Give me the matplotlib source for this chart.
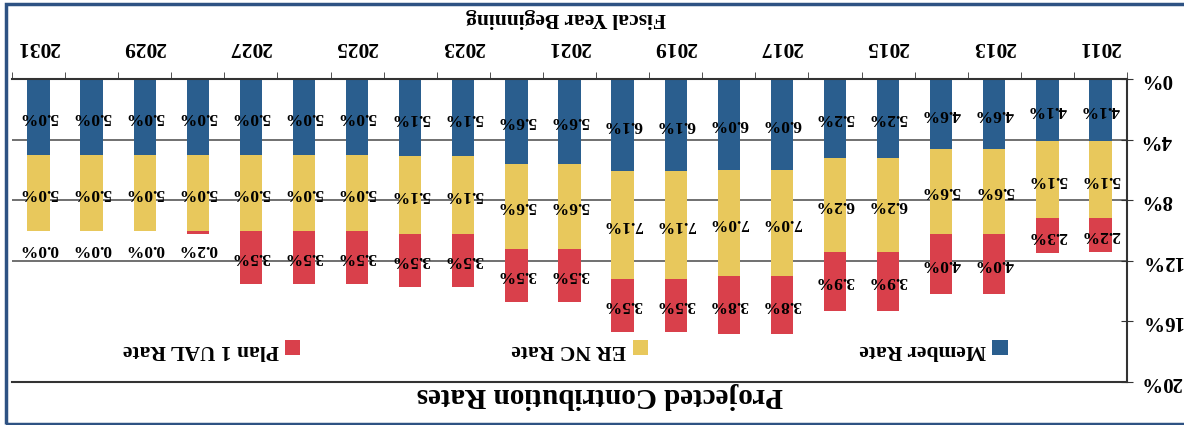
import numpy as np
import matplotlib
matplotlib.use('Agg')
import matplotlib.pyplot as plt
from matplotlib import ticker
from matplotlib.patches import Rectangle

years = list(range(2011, 2032))
member_rate = [4.1, 4.1, 4.6, 4.6, 5.2, 5.2, 6.0, 6.0, 6.1, 6.1, 5.6,
               5.6, 5.1, 5.1, 5.0, 5.0, 5.0, 5.0, 5.0, 5.0, 5.0]
er_nc_rate = [5.1, 5.1, 5.6, 5.6, 6.2, 6.2, 7.0, 7.0, 7.1, 7.1, 5.6,
              5.6, 5.1, 5.1, 5.0, 5.0, 5.0, 5.0, 5.0, 5.0, 5.0]
ual_rate = [2.2, 2.3, 4.0, 4.0, 3.9, 3.9, 3.8, 3.8, 3.5, 3.5, 3.5,
            3.5, 3.5, 3.5, 3.5, 3.5, 3.5, 0.2, 0.0, 0.0, 0.0]
series_names = ['Member Rate', 'ER NC Rate', 'Plan 1 UAL Rate']
y_ticks = [0, 4, 8, 12, 16, 20]
grid_levels = [4, 8, 12]


def plot_contribution_rates():
    # figure is laid out in pixels (dpi 100), then the whole thing is drawn upside down
    W, H = 1184.0, 425.0
    params = {'font.family': 'Liberation Serif',
              'font.weight': 'bold',
              'font.size': 12}
    plt.rcParams.update(params)

    fig = plt.figure(figsize=(W / 100, H / 100), dpi=100)
    ax = fig.add_axes([12 / W, 43 / H, 1115 / W, 303 / H])

    colors = ['#2a5e8e', '#e8c85c', '#d9404b']
    x = np.arange(len(years))
    bottom = np.zeros(len(years))
    for vals, color, name in zip([member_rate, er_nc_rate, ual_rate], colors, series_names):
        vals = np.asarray(vals)
        ax.bar(x, vals, 0.42, bottom=bottom, color=color, label=name, zorder=2)
        for xi, b, v in zip(x, bottom, vals):
            yc = b + v / 2.0 if v >= 1 else b + 1.2
            ax.text(xi, yc, '%.1f%%' % v, rotation=180, ha='center', va='center',
                    fontsize=12.5, fontweight='bold', zorder=3)
        bottom += vals

    for lvl in grid_levels:
        ax.axhline(lvl, color='#707070', lw=1.4, zorder=1)

    ax.set_xlim(len(years) - 0.5, -0.5)
    ax.set_ylim(20, 0)

    # category axis along the 0% line
    ax.xaxis.tick_top()
    ax.set_xticks(x[::2])
    ax.set_xticklabels([str(y) for y in years[::2]], rotation=180, fontsize=15.5)
    ax.set_xticks(np.arange(-0.5, len(years)), minor=True)
    ax.tick_params(axis='x', which='major', length=0, pad=16)
    ax.tick_params(axis='x', which='minor', length=5, direction='out', color='#333333')

    ax.yaxis.tick_right()
    ax.set_yticks(y_ticks)
    ax.yaxis.set_major_formatter(ticker.FormatStrFormatter('%d%%'))
    ax.tick_params(axis='y', length=8, direction='inout', pad=6, labelsize=15, color='#333333')
    for t in ax.get_yticklabels():
        t.set_rotation(180)
        t.set_va('center')

    for side in ['top', 'right', 'bottom']:
        ax.spines[side].set_color('#333333')
        ax.spines[side].set_linewidth(1.5)
    ax.spines['left'].set_visible(False)

    handles, labels = ax.get_legend_handles_labels()
    leg = ax.legend(handles[::-1], labels[::-1], ncol=3, markerfirst=False, frameon=False,
                    loc='center', bbox_to_anchor=(0.496, 0.106), fontsize=15.5,
                    columnspacing=9.8, handlelength=0.72, handleheight=0.72,
                    handletextpad=0.3)
    for t in leg.get_texts():
        t.set_rotation(180)

    fig.text(600 / W, 1 - 395 / H, 'Projected Contribution Rates', rotation=180,
             ha='center', va='center', fontsize=21)
    fig.text(566 / W, 1 - 18 / H, 'Fiscal Year Beginning', rotation=180,
             ha='center', va='center', fontsize=15.5)

    fig.add_artist(Rectangle((6 / W, 1 / H), 1.2, 420 / H, transform=fig.transFigure,
                             fill=False, edgecolor='#2e5283', linewidth=2.5))

    fig.savefig('out.png', dpi=100)
    plt.close(fig)


if __name__ == "__main__":
    plot_contribution_rates()
